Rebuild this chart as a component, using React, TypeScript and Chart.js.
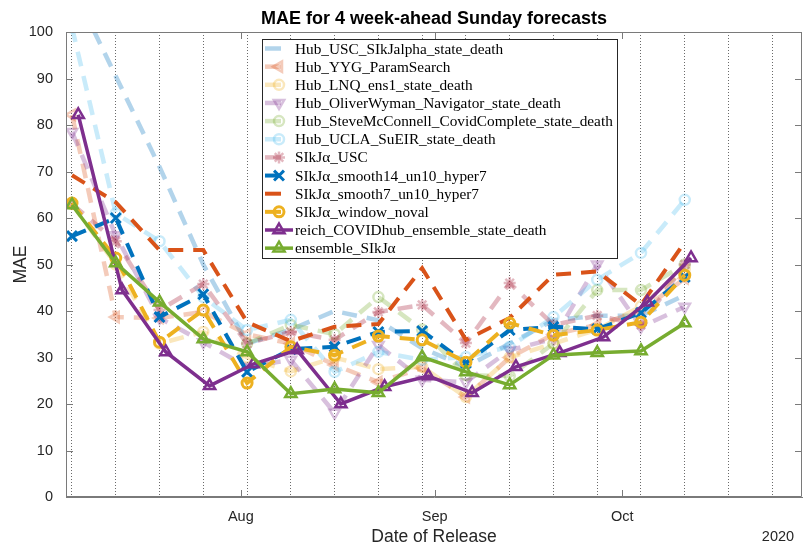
import React, { useEffect, useRef } from 'react';
import { Chart, registerables } from 'chart.js';
import { drawPoint } from 'chart.js/helpers';

Chart.register(...registerables);

// ---------------- data ----------------
const TITLE = 'MAE for 4 week-ahead Sunday forecasts';
const X_TITLE = 'Date of Release';
const Y_TITLE = 'MAE';
const YEAR_LABEL = '2020';

const releaseSundays = [
  '2020-07-05', '2020-07-12', '2020-07-19', '2020-07-26', '2020-08-02',
  '2020-08-09', '2020-08-16', '2020-08-23', '2020-08-30', '2020-09-06',
  '2020-09-13', '2020-09-20', '2020-09-27', '2020-10-04', '2020-10-11',
];
const ensembleMondays = [
  '2020-07-06', '2020-07-13', '2020-07-20', '2020-07-27', '2020-08-03',
  '2020-08-10', '2020-08-17', '2020-08-24', '2020-08-31', '2020-09-07',
  '2020-09-14', '2020-09-21', '2020-09-28', '2020-10-05', '2020-10-12',
];
const weeklyGridDates = [
  '2020-07-05', '2020-07-12', '2020-07-19', '2020-07-26', '2020-08-02',
  '2020-08-09', '2020-08-16', '2020-08-23', '2020-08-30', '2020-09-06',
  '2020-09-13', '2020-09-20', '2020-09-27', '2020-10-04', '2020-10-11',
  '2020-10-18', '2020-10-25',
];
const monthTickDates = ['2020-08-01', '2020-09-01', '2020-10-01'];
const monthTickLabels = ['Aug', 'Sep', 'Oct'];
const xAxisStart = '2020-07-04T01:00';
const xAxisEnd = '2020-10-29T18:00';
const yTicks = [0, 10, 20, 30, 40, 50, 60, 70, 80, 90, 100];

const hubUSC = [110, 90.5, 71, 50, 33, 36, 40, 38, 32, 28, 33, 38, 39, 39, 43.4];
const hubYYG = [82.2, 38.7, 38.5, 39.8, 35, 33, 28.4, 24.7, 27.7, 21.5, 30, 35, 37, 40, 47];
const hubLNQ = [63, 50, 33, 35.5, 30, 27, 30, 27.5, 28, 21.5, 30, 33, 36, 41, 49];
const hubOliverWyman = [78.5, 56.3, 38.5, 33.3, 28, 29.5, 18.1, 32.7, 25.2, 24.7, 31.6, 34, 50, 36.6, 40.9];
const hubSteveMcConnell = [null, null, null, null, 33, 37, 35, 43, 36, 26.2, 26, 33, 44.5, 44.5, 50];
const hubUCLA = [101, 61, 55, 43, 35.9, 38.1, 26.9, 31.2, 29.5, 30.1, 32.3, 38.7, 46.7, 52.5, 63.9];
const sikjUSC = [63, 55, 40.2, 45.8, 33, 35.5, 33.8, 39.8, 41.3, 33.1, 46, 37, 39, 37, 50];
const sikjSmooth14 = [56.1, 60.0, 38.7, 43.6, 26.9, 31.8, 32.3, 35.5, 35.7, 28.8, 35.9, 36.6, 36.1, 39.6, 47.3];
const sikjSmooth7 = [69.2, 63.4, 53.1, 53.1, 37.6, 33.5, 36.6, 37.2, 49.2, 33.8, 38.5, 47.8, 48.5, 41.3, 54.8];
const sikjWindow = [63.2, 51.4, 33.3, 40.2, 24.5, 32.3, 30.5, 34.6, 33.8, 29.0, 37.4, 34.8, 35.9, 37.6, 47.7];
const reichEnsemble = [82.2, 44.5, 31.2, 23.9, 28.6, 31.6, 20.0, 23.7, 26.0, 22.4, 28.0, 31.0, 34.4, 41.9, 51.4];
const ensembleSIkJ = [62.8, 50.3, 41.9, 34.0, 31.2, 22.2, 23.2, 22.4, 30.1, 26.9, 24.1, 30.5, 31.0, 31.4, 37.4];

// ---------------- helpers ----------------
const DAY0 = Date.parse('2020-07-05T00:00Z');
const toDay = (s: string) => (Date.parse((s.length > 10 ? s : s + 'T00:00') + 'Z') - DAY0) / 86400000;

const SANS = '"Liberation Sans", Arial, Helvetica, sans-serif';
const SERIF = '"Liberation Serif", "Times New Roman", serif';
const AXIS_COLOR = '#262626';
const BOX_COLOR = '#7a7a7a';

const rgba = (c: number[], a: number) => `rgba(${c[0]},${c[1]},${c[2]},${a})`;
const C_BLUE = [0, 114, 189];
const C_ORANGE = [217, 83, 25];
const C_YELLOW = [237, 177, 32];
const C_PURPLE = [126, 47, 142];
const C_GREEN = [119, 172, 48];
const C_CYAN = [77, 190, 238];
const C_RED = [162, 20, 47];

type SeriesDef = {
  label: string;
  values: (number | null)[];
  dates: string[];
  color: string;
  dashed: boolean;
  width: number;
  pointStyle: any;
  rotation?: number;
  radius: number;
  pointWidth?: number;
};

const FAINT = 0.3;
const seriesDefs: SeriesDef[] = [
  { label: 'Hub_USC_SIkJalpha_state_death', values: hubUSC, dates: releaseSundays, color: rgba(C_BLUE, FAINT), dashed: true, width: 4.5, pointStyle: false, radius: 0 },
  { label: 'Hub_YYG_ParamSearch', values: hubYYG, dates: releaseSundays, color: rgba(C_ORANGE, FAINT), dashed: true, width: 4.5, pointStyle: 'triangle', rotation: -90, radius: 6 },
  { label: 'Hub_LNQ_ens1_state_death', values: hubLNQ, dates: releaseSundays, color: rgba(C_YELLOW, FAINT), dashed: true, width: 4.5, pointStyle: 'circle', radius: 5 },
  { label: 'Hub_OliverWyman_Navigator_state_death', values: hubOliverWyman, dates: releaseSundays, color: rgba(C_PURPLE, FAINT), dashed: true, width: 4.5, pointStyle: 'triangle', rotation: 180, radius: 6 },
  { label: 'Hub_SteveMcConnell_CovidComplete_state_death', values: hubSteveMcConnell, dates: releaseSundays, color: rgba(C_GREEN, FAINT), dashed: true, width: 4.5, pointStyle: 'circle', radius: 5 },
  { label: 'Hub_UCLA_SuEIR_state_death', values: hubUCLA, dates: releaseSundays, color: rgba(C_CYAN, FAINT), dashed: true, width: 4.5, pointStyle: 'circle', radius: 5 },
  { label: 'SIkJα_USC', values: sikjUSC, dates: releaseSundays, color: rgba(C_RED, FAINT), dashed: true, width: 4.5, pointStyle: 'star', radius: 6 },
  { label: 'SIkJα_smooth14_un10_hyper7', values: sikjSmooth14, dates: releaseSundays, color: rgba(C_BLUE, 1), dashed: true, width: 4, pointStyle: 'crossRot', radius: 7, pointWidth: 3 },
  { label: 'SIkJα_smooth7_un10_hyper7', values: sikjSmooth7, dates: releaseSundays, color: rgba(C_ORANGE, 1), dashed: true, width: 4, pointStyle: false, radius: 0 },
  { label: 'SIkJα_window_noval', values: sikjWindow, dates: releaseSundays, color: rgba(C_YELLOW, 1), dashed: true, width: 4, pointStyle: 'circle', radius: 5, pointWidth: 3 },
  { label: 'reich_COVIDhub_ensemble_state_death', values: reichEnsemble, dates: ensembleMondays, color: rgba(C_PURPLE, 1), dashed: false, width: 3.5, pointStyle: 'triangle', radius: 6.5, pointWidth: 2.5 },
  { label: 'ensemble_SIkJα', values: ensembleSIkJ, dates: releaseSundays, color: rgba(C_GREEN, 1), dashed: false, width: 3.5, pointStyle: 'triangle', radius: 6.5, pointWidth: 2.5 },
];

const DASH = [15, 10];
const LEGEND_DASH = [16, 20];

const monthDays = monthTickDates.map(toDay);
const weekDays = weeklyGridDates.map(toDay);

const boxPlugin = {
  id: 'matlabBox',
  afterDatasetsDraw(chart: any) {
    const { ctx, chartArea } = chart;
    const { left, right, top, bottom } = chartArea;
    const ys = chart.scales.y;
    const xs = chart.scales.x;
    ctx.save();
    ctx.strokeStyle = BOX_COLOR;
    ctx.lineWidth = 1;
    ctx.beginPath();
    ctx.moveTo(left + 0.5, top + 0.5);
    ctx.lineTo(right - 0.5, top + 0.5);
    ctx.lineTo(right - 0.5, bottom - 0.5);
    ctx.lineTo(left + 0.5, bottom - 0.5);
    ctx.closePath();
    ctx.stroke();
    const TL = 7;
    ctx.beginPath();
    yTicks.forEach((v) => {
      const p = Math.round(ys.getPixelForValue(v)) + 0.5;
      ctx.moveTo(left, p); ctx.lineTo(left + TL, p);
      ctx.moveTo(right, p); ctx.lineTo(right - TL, p);
    });
    monthDays.forEach((d) => {
      const p = Math.round(xs.getPixelForValue(d)) + 0.5;
      ctx.moveTo(p, bottom); ctx.lineTo(p, bottom - TL);
      ctx.moveTo(p, top); ctx.lineTo(p, top + TL);
    });
    ctx.stroke();
    // year label of datetime axis
    ctx.fillStyle = AXIS_COLOR;
    ctx.font = `14.5px ${SANS}`;
    ctx.textAlign = 'center';
    ctx.textBaseline = 'middle';
    ctx.fillText(YEAR_LABEL, right - 24, bottom + 40);
    ctx.restore();
  },
};

const legendPlugin = {
  id: 'matlabLegend',
  afterDraw(chart: any) {
    const { ctx } = chart;
    const bx = 262, by = 39, bw = 355, bh = 219, rowH = 18.15;
    ctx.save();
    ctx.fillStyle = '#ffffff';
    ctx.fillRect(bx, by, bw, bh);
    ctx.strokeStyle = '#262626';
    ctx.lineWidth = 1;
    ctx.strokeRect(bx + 0.5, by + 0.5, bw, bh);
    chart.data.datasets.forEach((ds: any, i: number) => {
      const yy = by + 9.5 + i * rowH;
      ctx.save();
      ctx.strokeStyle = ds.borderColor;
      ctx.lineWidth = ds.borderWidth;
      ctx.setLineDash(ds.borderDash && ds.borderDash.length ? LEGEND_DASH : []);
      ctx.beginPath();
      ctx.moveTo(bx + 3, yy);
      ctx.lineTo(bx + 31, yy);
      ctx.stroke();
      ctx.setLineDash([]);
      if (ds.pointStyle && ds.pointRadius > 0) {
        ctx.strokeStyle = ds.pointBorderColor;
        ctx.fillStyle = ds.pointBackgroundColor;
        ctx.lineWidth = ds.pointBorderWidth;
        drawPoint(ctx, { pointStyle: ds.pointStyle, rotation: ds.pointRotation || 0, radius: ds.pointRadius, borderWidth: ds.pointBorderWidth } as any, bx + 17, yy);
      }
      ctx.restore();
      ctx.fillStyle = '#000';
      ctx.font = `15.3px ${SERIF}`;
      ctx.textAlign = 'left';
      ctx.textBaseline = 'middle';
      ctx.fillText(ds.label, bx + 33, yy + 1);
    });
    ctx.restore();
  },
};

export default function App() {
  const ref = useRef<HTMLCanvasElement | null>(null);
  useEffect(() => {
    if (!ref.current) return;
    const n = seriesDefs.length;
    const datasets = seriesDefs.map((s, i) => ({
      label: s.label,
      data: s.values.map((v, k) => ({ x: toDay(s.dates[k]), y: v })),
      borderColor: s.color,
      backgroundColor: s.color,
      borderWidth: s.width,
      borderDash: s.dashed ? DASH : [],
      pointStyle: s.pointStyle,
      pointRotation: s.rotation || 0,
      pointRadius: s.radius,
      pointBorderColor: s.color,
      pointBackgroundColor: 'rgba(255,255,255,0)',
      pointBorderWidth: s.pointWidth || 2.5,
      pointHoverRadius: s.radius,
      tension: 0,
      spanGaps: false,
      fill: false,
      order: n - 1 - i,
    }));
    const chart = new Chart(ref.current, {
      type: 'line',
      data: { datasets },
      options: {
        animation: false,
        responsive: false,
        maintainAspectRatio: false,
        devicePixelRatio: 1,
        events: [],
        layout: { padding: { left: 0, right: 6, top: 0, bottom: 0 } },
        plugins: {
          legend: { display: false },
          tooltip: { enabled: false },
          title: {
            display: true,
            fullSize: false,
            text: TITLE,
            color: '#000',
            font: { family: SANS, size: 18, weight: 'bold', lineHeight: 1.2 },
            padding: { top: 8, bottom: 2.4 },
          },
        },
        scales: {
          x: {
            type: 'linear',
            min: toDay(xAxisStart),
            max: toDay(xAxisEnd),
            afterBuildTicks: (scale: any) => {
              const vals = [...weekDays, ...monthDays].sort((a, b) => a - b);
              scale.ticks = vals.map((v) => ({ value: v }));
            },
            afterFit: (scale: any) => { scale.height = 49; },
            ticks: {
              autoSkip: false,
              maxRotation: 0,
              padding: 11,
              color: AXIS_COLOR,
              font: { family: SANS, size: 14.5 },
              callback: (v: any) => {
                const k = monthDays.findIndex((d) => Math.abs(d - v) < 1e-6);
                return k >= 0 ? monthTickLabels[k] : '';
              },
            },
            grid: {
              drawTicks: false,
              lineWidth: 1,
              color: (c: any) => {
                const v = c.tick ? c.tick.value : NaN;
                return weekDays.some((d) => Math.abs(d - v) < 1e-6) ? '#6a6a6a' : 'rgba(0,0,0,0)';
              },
            },
            border: { display: true, color: BOX_COLOR, dash: [1, 2] },
            title: {
              display: true,
              text: X_TITLE,
              color: AXIS_COLOR,
              font: { family: SANS, size: 17.5, lineHeight: 1 },
              padding: { top: 0, bottom: 0 },
            },
          },
          y: {
            min: 0,
            max: 100,
            afterBuildTicks: (scale: any) => { scale.ticks = yTicks.map((v) => ({ value: v })); },
            afterFit: (scale: any) => { scale.width = 66; },
            ticks: { padding: 13, color: AXIS_COLOR, font: { family: SANS, size: 14.5 } },
            grid: { display: false, drawTicks: false },
            border: { display: true, color: BOX_COLOR },
            title: {
              display: true,
              text: Y_TITLE,
              color: AXIS_COLOR,
              font: { family: SANS, size: 17.5, lineHeight: 1 },
              padding: { top: 12, bottom: 0 },
            },
          },
        },
      } as any,
      plugins: [boxPlugin, legendPlugin],
    });
    return () => chart.destroy();
  }, []);
  return (
    <div style={{ position: 'fixed', left: 0, top: 0, width: 812, height: 546, background: '#fff' }}>
      <canvas ref={ref} width={812} height={546} style={{ width: 812, height: 546, display: 'block' }} />
    </div>
  );
}
